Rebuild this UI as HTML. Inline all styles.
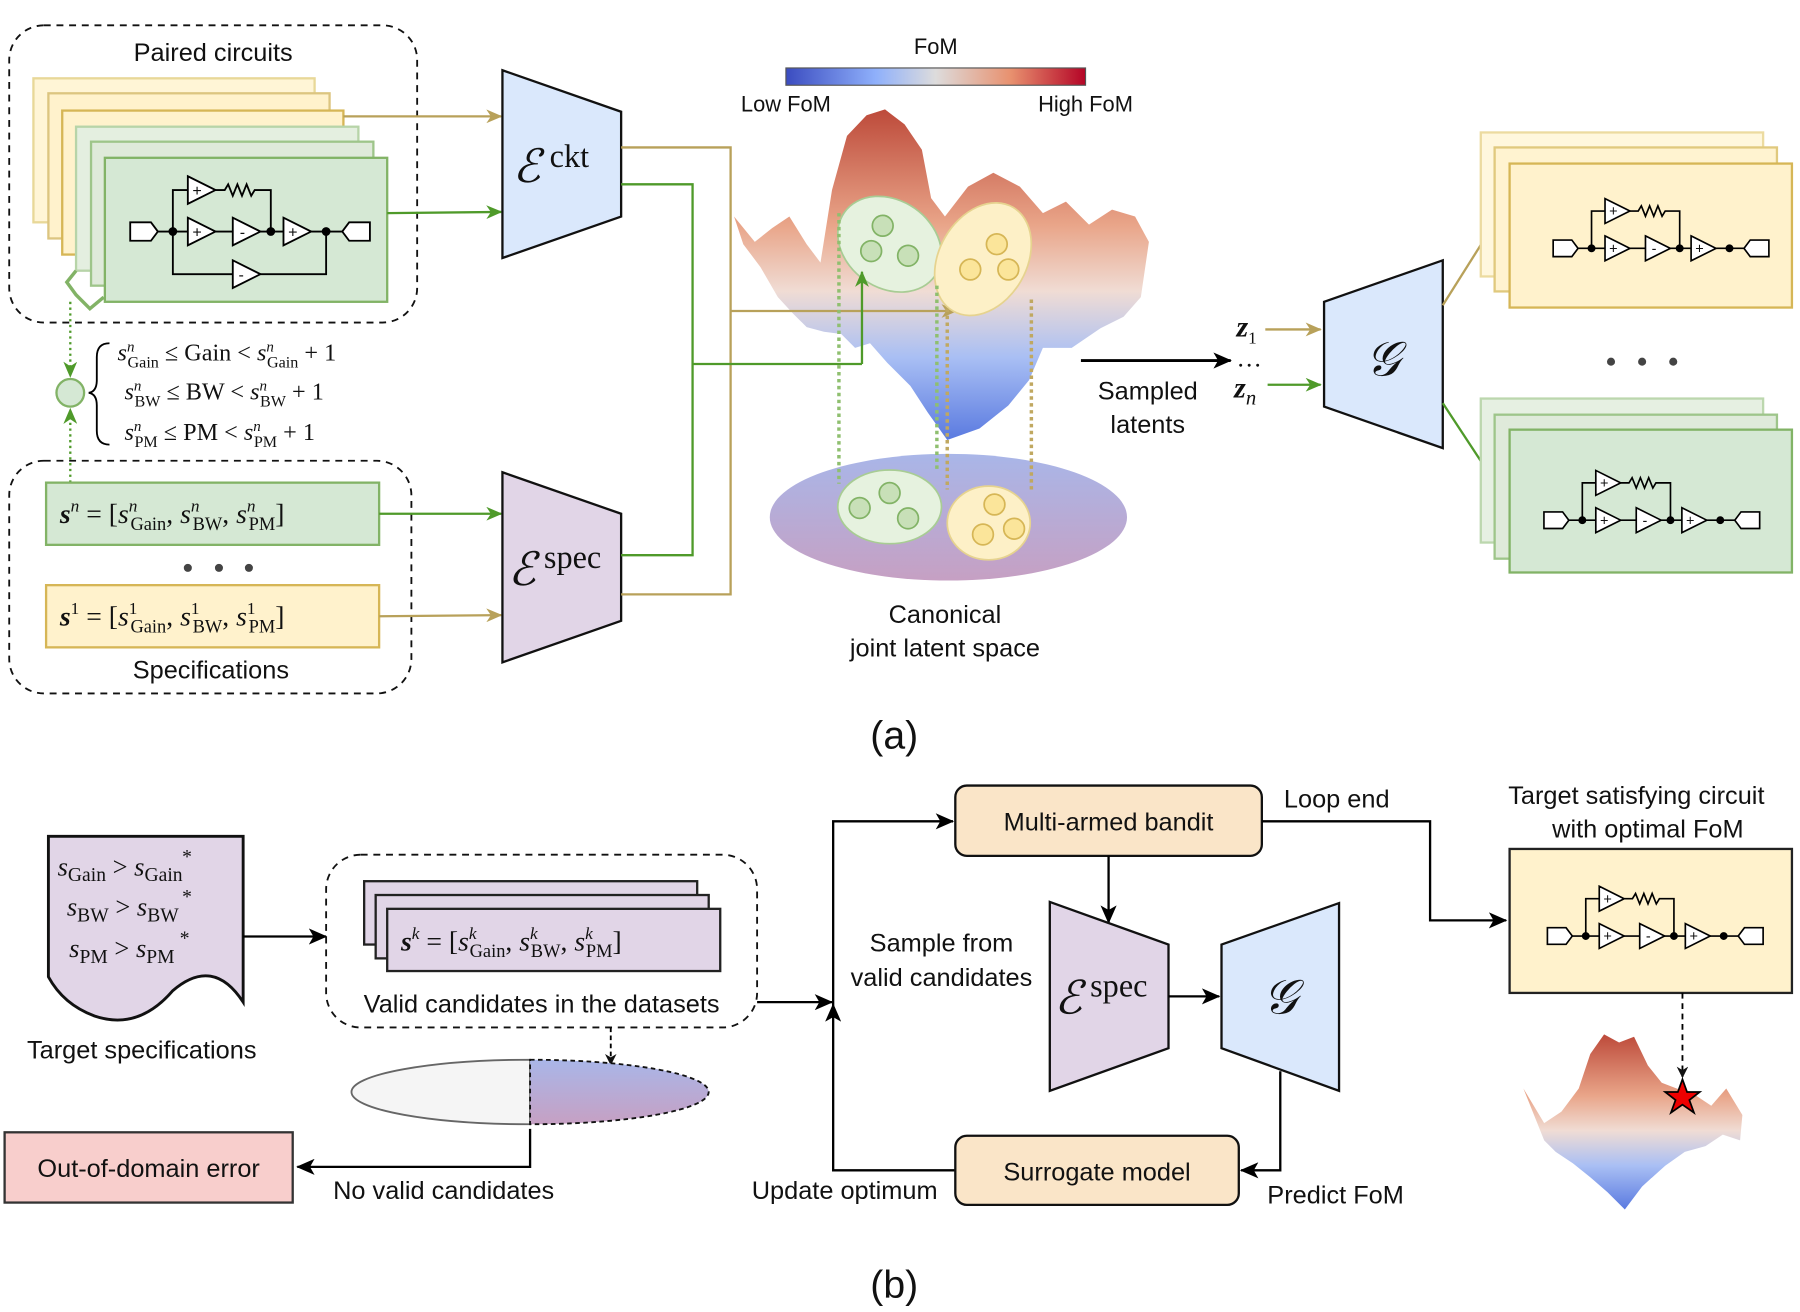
<!DOCTYPE html>
<html><head><meta charset="utf-8"><style>
html,body{margin:0;padding:0;background:#fff;}
svg{display:block;}
text{font-family:"Liberation Sans",sans-serif;fill:#111;}
text.m{font-family:"Liberation Serif",serif;}
</style></head><body>
<svg width="1800" height="1312" viewBox="0 0 1562 1139" preserveAspectRatio="none" xmlns="http://www.w3.org/2000/svg">
<defs>
<marker id="ak" markerWidth="10" markerHeight="10" refX="9" refY="5" orient="auto" markerUnits="userSpaceOnUse"><path d="M0,0 L10,5 L0,10 L3,5Z" fill="#111"/></marker>
<marker id="ag" markerWidth="14" markerHeight="12" refX="13" refY="6" orient="auto" markerUnits="userSpaceOnUse"><path d="M0,0 L14,6 L0,12 L4,6Z" fill="#4f9a2a"/></marker>
<marker id="ay" markerWidth="14" markerHeight="12" refX="13" refY="6" orient="auto" markerUnits="userSpaceOnUse"><path d="M0,0 L14,6 L0,12 L4,6Z" fill="#b8a15a"/></marker>
<marker id="ab" markerWidth="16" markerHeight="14" refX="15" refY="7" orient="auto" markerUnits="userSpaceOnUse"><path d="M0,0 L16,7 L0,14 L4,7Z" fill="#000"/></marker>
<linearGradient id="cb" x1="0" x2="1" y1="0" y2="0"><stop offset="0" stop-color="#3b4cc0"/><stop offset="0.3" stop-color="#8fb0fb"/><stop offset="0.5" stop-color="#dddcdc"/><stop offset="0.75" stop-color="#e8916f"/><stop offset="1" stop-color="#b40426"/></linearGradient>
<linearGradient id="sf" x1="0" x2="0" y1="0" y2="1"><stop offset="0" stop-color="#bd4a3a"/><stop offset="0.35" stop-color="#e9a589"/><stop offset="0.55" stop-color="#f0dcd4"/><stop offset="0.75" stop-color="#a9bff4"/><stop offset="1" stop-color="#5a7ae0"/></linearGradient>
<linearGradient id="lp" x1="0" x2="0" y1="0" y2="1"><stop offset="0" stop-color="#a9b6e8"/><stop offset="1" stop-color="#c6a0c3"/></linearGradient>
<g id="circ" stroke="#000" stroke-width="1.6" fill="none">
<path d="M46,64 H206 M59,64 V28 H72 M96,28 H104 l3,-5 l4,10 l4,-10 l4,10 l4,-10 l4,10 l3,-5 H144 V64"/>
<path d="M22,56 H40 L46,64 L40,72 H22Z M230,56 H212 L206,64 L212,72 H230Z" fill="#fff"/>
<path d="M72,16 L96,28 L72,40Z M72,52 L96,64 L72,76Z M111,52 L135,64 L111,76Z M155,52 L179,64 L155,76Z" fill="#fff"/>
<circle cx="59" cy="64" r="3" fill="#000"/><circle cx="144" cy="64" r="3" fill="#000"/><circle cx="192" cy="64" r="3" fill="#000"/>
<text x="76" y="33" font-size="14" stroke="none" fill="#000">+</text><text x="76" y="69" font-size="14" stroke="none" fill="#000">+</text><text x="117" y="69" font-size="14" stroke="none" fill="#000">-</text><text x="159" y="69" font-size="14" stroke="none" fill="#000">+</text>
</g>
</defs>

<!-- (a) paired circuits -->
<rect x="8" y="22" width="354" height="258" rx="30" fill="none" stroke="#111" stroke-width="1.6" stroke-dasharray="6,5"/>
<text x="185" y="53" font-size="22" text-anchor="middle">Paired circuits</text>
<g stroke-width="2">
<rect x="29" y="68" width="244" height="125" fill="#fff5d6" stroke="#e8d898"/>
<rect x="42" y="81" width="244" height="126" fill="#fff2cc" stroke="#dcc580"/>
<rect x="54" y="96" width="244" height="125" fill="#fff2cc" stroke="#d6b656"/>
<rect x="66" y="110" width="245" height="125" fill="#e4efe0" stroke="#b7d4a8"/>
<rect x="79" y="123" width="245" height="125" fill="#dfeada" stroke="#9ec58a"/>
<rect x="91" y="137" width="245" height="125" fill="#d5e8d4" stroke="#82b366"/>
</g>
<use href="#circ" x="91" y="137"/>
<g stroke="#000" stroke-width="1.6" fill="none"><path d="M150,201 V238 H202 M226,238 H283 V201"/><path d="M202,226 L226,238 L202,250Z" fill="#fff"/></g>
<text x="207" y="243" font-size="14">-</text>
<path d="M66,235 L58,245 L66,256 L78,268 L90,258" stroke="#82b366" stroke-width="3" fill="none"/>
<line x1="61" y1="262" x2="61" y2="327" stroke="#4f9a2a" stroke-width="2" stroke-dasharray="2,3" marker-end="url(#ag)"/>
<line x1="61" y1="419" x2="61" y2="355" stroke="#4f9a2a" stroke-width="2" stroke-dasharray="2,3" marker-end="url(#ag)"/>
<circle cx="61" cy="341" r="12" fill="#d5e8d4" stroke="#82b366" stroke-width="2"/>
<path d="M95,298 Q84,298 84,310 V330 Q84,340 77,341 Q84,342 84,352 V374 Q84,386 95,386" fill="none" stroke="#000" stroke-width="1.6"/>
<text x="102" y="313" class="m" font-size="21"><tspan font-style="italic">s</tspan><tspan font-size="13" dy="-8" font-style="italic">n</tspan><tspan font-size="14" dy="14" dx="-6">Gain</tspan><tspan dy="-6"> ≤  Gain  &lt; </tspan><tspan font-style="italic">s</tspan><tspan font-size="13" dy="-8" font-style="italic">n</tspan><tspan font-size="14" dy="14" dx="-6">Gain</tspan><tspan dy="-6"> + 1</tspan></text>
<text x="108" y="347" class="m" font-size="21"><tspan font-style="italic">s</tspan><tspan font-size="13" dy="-8" font-style="italic">n</tspan><tspan font-size="14" dy="14" dx="-6">BW</tspan><tspan dy="-6"> ≤   BW   &lt; </tspan><tspan font-style="italic">s</tspan><tspan font-size="13" dy="-8" font-style="italic">n</tspan><tspan font-size="14" dy="14" dx="-6">BW</tspan><tspan dy="-6"> + 1</tspan></text>
<text x="108" y="382" class="m" font-size="21"><tspan font-style="italic">s</tspan><tspan font-size="13" dy="-8" font-style="italic">n</tspan><tspan font-size="14" dy="14" dx="-6">PM</tspan><tspan dy="-6"> ≤   PM   &lt; </tspan><tspan font-style="italic">s</tspan><tspan font-size="13" dy="-8" font-style="italic">n</tspan><tspan font-size="14" dy="14" dx="-6">PM</tspan><tspan dy="-6"> + 1</tspan></text>

<!-- specifications -->
<rect x="8" y="400" width="349" height="202" rx="30" fill="none" stroke="#111" stroke-width="1.6" stroke-dasharray="6,5"/>
<rect x="40" y="419" width="289" height="54" fill="#d5e8d4" stroke="#82b366" stroke-width="2"/>
<rect x="40" y="508" width="289" height="54" fill="#fff2cc" stroke="#d6b656" stroke-width="2"/>
<text x="52" y="454" class="m" font-size="24"><tspan font-weight="bold" font-style="italic">s</tspan><tspan font-size="15" dy="-10" font-style="italic">n</tspan><tspan dy="10"> = [</tspan><tspan font-style="italic">s</tspan><tspan font-size="15" dy="-10" font-style="italic">n</tspan><tspan font-size="16" dy="16" dx="-6">Gain</tspan><tspan dy="-6">, </tspan><tspan font-style="italic">s</tspan><tspan font-size="15" dy="-10" font-style="italic">n</tspan><tspan font-size="16" dy="16" dx="-6">BW</tspan><tspan dy="-6">, </tspan><tspan font-style="italic">s</tspan><tspan font-size="15" dy="-10" font-style="italic">n</tspan><tspan font-size="16" dy="16" dx="-6">PM</tspan><tspan dy="-6">]</tspan></text>
<text x="52" y="543" class="m" font-size="24"><tspan font-weight="bold" font-style="italic">s</tspan><tspan font-size="15" dy="-10">1</tspan><tspan dy="10"> = [</tspan><tspan font-style="italic">s</tspan><tspan font-size="15" dy="-10">1</tspan><tspan font-size="16" dy="16" dx="-6">Gain</tspan><tspan dy="-6">, </tspan><tspan font-style="italic">s</tspan><tspan font-size="15" dy="-10">1</tspan><tspan font-size="16" dy="16" dx="-6">BW</tspan><tspan dy="-6">, </tspan><tspan font-style="italic">s</tspan><tspan font-size="15" dy="-10">1</tspan><tspan font-size="16" dy="16" dx="-6">PM</tspan><tspan dy="-6">]</tspan></text>
<circle cx="163" cy="493" r="3.5" fill="#444"/><circle cx="190" cy="493" r="3.5" fill="#444"/><circle cx="216" cy="493" r="3.5" fill="#444"/>
<text x="183" y="589" font-size="22" text-anchor="middle">Specifications</text>

<!-- arrows to encoders -->
<line x1="298" y1="101" x2="435" y2="101" stroke="#b8a15a" stroke-width="2" marker-end="url(#ay)"/>
<line x1="336" y1="185" x2="435" y2="184" stroke="#4f9a2a" stroke-width="2" marker-end="url(#ag)"/>
<line x1="329" y1="446" x2="435" y2="446" stroke="#4f9a2a" stroke-width="2" marker-end="url(#ag)"/>
<line x1="329" y1="535" x2="435" y2="534" stroke="#b8a15a" stroke-width="2" marker-end="url(#ay)"/>

<!-- encoders -->
<path d="M436,61 L539,97 L539,188 L436,224Z" fill="#dae8fc" stroke="#111" stroke-width="2"/>
<text x="445" y="158" class="m" font-size="40" font-style="italic">ℰ</text><text x="477" y="145" class="m" font-size="28">ckt</text>
<path d="M436,410 L539,446 L539,539 L436,575Z" fill="#e1d5e7" stroke="#111" stroke-width="2"/>
<text x="441" y="508" class="m" font-size="40" font-style="italic">ℰ</text><text x="472" y="493" class="m" font-size="28">spec</text>

<!-- connector lines -->
<path d="M539,128 H634 V516 H539" fill="none" stroke="#b8a15a" stroke-width="2"/>
<path d="M539,160 H601 V482 H539" fill="none" stroke="#4f9a2a" stroke-width="2"/>

<!-- colorbar -->
<rect x="682" y="59" width="260" height="15" fill="url(#cb)" stroke="#555" stroke-width="1"/>
<text x="812" y="47" font-size="19" text-anchor="middle">FoM</text>
<text x="682" y="97" font-size="19" text-anchor="middle">Low FoM</text>
<text x="942" y="97" font-size="19" text-anchor="middle">High FoM</text>

<!-- bottom latent -->
<ellipse cx="823" cy="449" rx="155" ry="55" fill="url(#lp)"/>
<!-- surface -->
<path d="M637,188 L655,210 L670,198 L685,188 L700,212 L712,228 L722,165 L735,118 L752,100 L768,95 L785,108 L800,130 L808,172 L820,188 L840,162 L862,150 L885,162 L905,185 L925,175 L945,195 L965,182 L985,188 L997,210 L990,258 L975,275 L955,285 L930,302 L905,302 L893,330 L875,352 L850,372 L822,382 L805,358 L790,335 L770,315 L755,298 L742,302 L730,290 L715,288 L700,284 L688,272 L675,258 L660,232 L645,212Z" fill="url(#sf)"/>
<line x1="634" y1="270" x2="830" y2="270" stroke="#b8a15a" stroke-width="2" marker-end="url(#ay)"/>
<ellipse cx="772" cy="212" rx="48" ry="38" transform="rotate(35 772 212)" fill="#e6f2df" stroke="#a8cc94" stroke-width="1.5"/>
<ellipse cx="853" cy="225" rx="38" ry="52" transform="rotate(30 853 225)" fill="#fdf0c7" stroke="#e6d38f" stroke-width="1.5"/>
<g fill="#c8e0b8" stroke="#82b366" stroke-width="1.5"><circle cx="766" cy="196" r="9"/><circle cx="756" cy="218" r="9"/><circle cx="788" cy="222" r="9"/></g>
<g fill="#fbe59a" stroke="#d6b656" stroke-width="1.5"><circle cx="865" cy="212" r="9"/><circle cx="842" cy="234" r="9"/><circle cx="875" cy="234" r="9"/></g>
<path d="M748,316 V236" stroke="#4f9a2a" stroke-width="2" marker-end="url(#ag)" fill="none"/>
<path d="M601,316 H748" stroke="#4f9a2a" stroke-width="2" fill="none"/>
<g stroke-width="3" stroke-dasharray="3,3" fill="none">
<line x1="728" y1="185" x2="728" y2="420" stroke="#8fbf6f"/>
<line x1="813" y1="248" x2="813" y2="410" stroke="#8fbf6f"/>
<line x1="822" y1="268" x2="822" y2="425" stroke="#c0a860"/>
<line x1="895" y1="260" x2="895" y2="428" stroke="#c0a860"/>
</g>
<ellipse cx="772" cy="440" rx="45" ry="32" fill="#e6f2df" stroke="#a8cc94" stroke-width="1.5"/>
<ellipse cx="858" cy="454" rx="36" ry="32" fill="#fdf0c7" stroke="#e6d38f" stroke-width="1.5"/>
<g fill="#c8e0b8" stroke="#82b366" stroke-width="1.5"><circle cx="772" cy="428" r="9"/><circle cx="746" cy="441" r="9"/><circle cx="788" cy="450" r="9"/></g>
<g fill="#fbe59a" stroke="#d6b656" stroke-width="1.5"><circle cx="863" cy="438" r="9"/><circle cx="853" cy="464" r="9"/><circle cx="880" cy="459" r="9"/></g>
<text x="820" y="541" font-size="22" text-anchor="middle">Canonical</text>
<text x="820" y="570" font-size="22" text-anchor="middle">joint latent space</text>

<!-- sampled latents -->
<line x1="938" y1="313" x2="1068" y2="313" stroke="#000" stroke-width="2.5" marker-end="url(#ab)"/>
<text x="996" y="347" font-size="22" text-anchor="middle">Sampled</text>
<text x="996" y="376" font-size="22" text-anchor="middle">latents</text>
<text x="1073" y="292" class="m" font-size="26" font-weight="bold" font-style="italic">z<tspan font-size="15" font-style="normal" font-weight="normal" dy="6">1</tspan></text>
<text x="1073" y="318" class="m" font-size="22">…</text>
<text x="1071" y="345" class="m" font-size="26" font-weight="bold" font-style="italic">z<tspan font-size="18" font-weight="normal" dy="6">n</tspan></text>
<line x1="1098" y1="286" x2="1146" y2="286" stroke="#b8a15a" stroke-width="2" marker-end="url(#ay)"/>
<line x1="1100" y1="334" x2="1146" y2="334" stroke="#4f9a2a" stroke-width="2" marker-end="url(#ag)"/>
<path d="M1149,262 L1252,226 L1252,389 L1149,353Z" fill="#dae8fc" stroke="#111" stroke-width="2"/>
<text x="1200" y="326" class="m" font-size="42" font-style="italic" text-anchor="middle">𝒢</text>
<line x1="1252" y1="265" x2="1298" y2="192" stroke="#b8a15a" stroke-width="2" marker-end="url(#ay)"/>
<line x1="1252" y1="350" x2="1298" y2="420" stroke="#4f9a2a" stroke-width="2" marker-end="url(#ag)"/>

<!-- right cards -->
<g stroke-width="2">
<rect x="1285" y="115" width="245" height="125" fill="#fff7dd" stroke="#ecdba0"/>
<rect x="1297" y="128" width="245" height="125" fill="#fff3d0" stroke="#e0c97e"/>
<rect x="1310" y="142" width="245" height="125" fill="#fff2cc" stroke="#d6b656"/>
<rect x="1285" y="346" width="245" height="125" fill="#e6f0e2" stroke="#bcd7ae"/>
<rect x="1297" y="360" width="245" height="125" fill="#dfeada" stroke="#9ec58a"/>
<rect x="1310" y="373" width="245" height="124" fill="#d5e8d4" stroke="#82b366"/>
</g>
<use href="#circ" transform="translate(1328,158) scale(0.9)"/>
<use href="#circ" transform="translate(1320,394) scale(0.9)"/>
<circle cx="1398" cy="314" r="3.5" fill="#444"/><circle cx="1425" cy="314" r="3.5" fill="#444"/><circle cx="1452" cy="314" r="3.5" fill="#444"/>

<text x="776" y="650" font-size="34" text-anchor="middle">(a)</text>

<!-- (b) -->
<path d="M42,726 H211 V870 Q185,830 150,860 Q120,895 82,882 Q55,872 42,848Z" fill="#e1d5e7" stroke="#111" stroke-width="2.5"/>
<text x="50" y="760" class="m" font-size="23"><tspan font-style="italic">s</tspan><tspan font-size="17" dy="5">Gain</tspan><tspan dy="-5"> &gt; </tspan><tspan font-style="italic">s</tspan><tspan font-size="17" dy="5">Gain</tspan></text>
<text x="58" y="795" class="m" font-size="23"><tspan font-style="italic">s</tspan><tspan font-size="17" dy="5">BW</tspan><tspan dy="-5"> &gt; </tspan><tspan font-style="italic">s</tspan><tspan font-size="17" dy="5">BW</tspan></text>
<text x="60" y="831" class="m" font-size="23"><tspan font-style="italic">s</tspan><tspan font-size="17" dy="5">PM</tspan><tspan dy="-5"> &gt; </tspan><tspan font-style="italic">s</tspan><tspan font-size="17" dy="5">PM</tspan></text>
<text x="158" y="749" class="m" font-size="17">*</text><text x="158" y="784" class="m" font-size="17">*</text><text x="156" y="820" class="m" font-size="17">*</text>
<text x="123" y="919" font-size="22" text-anchor="middle">Target specifications</text>
<line x1="211" y1="813" x2="283" y2="813" stroke="#000" stroke-width="2" marker-end="url(#ab)"/>

<rect x="283" y="742" width="374" height="150" rx="30" fill="none" stroke="#111" stroke-width="1.6" stroke-dasharray="6,5"/>
<rect x="316" y="765" width="289" height="55" fill="#e1d5e7" stroke="#222" stroke-width="2"/>
<rect x="326" y="777" width="289" height="55" fill="#e1d5e7" stroke="#222" stroke-width="2"/>
<rect x="336" y="789" width="289" height="54" fill="#e1d5e7" stroke="#222" stroke-width="2"/>
<text x="348" y="825" class="m" font-size="24"><tspan font-weight="bold" font-style="italic">s</tspan><tspan font-size="15" dy="-10" font-style="italic">k</tspan><tspan dy="10"> = [</tspan><tspan font-style="italic">s</tspan><tspan font-size="15" dy="-10" font-style="italic">k</tspan><tspan font-size="16" dy="16" dx="-6">Gain</tspan><tspan dy="-6">, </tspan><tspan font-style="italic">s</tspan><tspan font-size="15" dy="-10" font-style="italic">k</tspan><tspan font-size="16" dy="16" dx="-6">BW</tspan><tspan dy="-6">, </tspan><tspan font-style="italic">s</tspan><tspan font-size="15" dy="-10" font-style="italic">k</tspan><tspan font-size="16" dy="16" dx="-6">PM</tspan><tspan dy="-6">]</tspan></text>
<text x="470" y="879" font-size="22" text-anchor="middle">Valid candidates in the datasets</text>
<line x1="530" y1="892" x2="530" y2="924" stroke="#000" stroke-width="1.6" stroke-dasharray="4,3" marker-end="url(#ak)"/>
<path d="M460,920 A155,28 0 0,0 460,976Z" fill="#f5f5f5" stroke="#666" stroke-width="1.6"/>
<path d="M460,920 A155,28 0 0,1 460,976Z" fill="url(#lp)" stroke="#111" stroke-width="1.6" stroke-dasharray="4,3"/>
<path d="M460,980 V1013 H258" fill="none" stroke="#000" stroke-width="2" marker-end="url(#ab)"/>
<rect x="4" y="983" width="250" height="61" fill="#f8cecc" stroke="#333" stroke-width="2"/>
<text x="129" y="1022" font-size="22" text-anchor="middle">Out-of-domain error</text>
<text x="385" y="1041" font-size="22" text-anchor="middle">No valid candidates</text>
<line x1="657" y1="870" x2="722" y2="870" stroke="#000" stroke-width="2" marker-end="url(#ab)"/>
<path d="M829,1016 H723 V872" fill="none" stroke="#000" stroke-width="2" marker-end="url(#ab)"/>
<path d="M723,872 V713 H827" fill="none" stroke="#000" stroke-width="2" marker-end="url(#ab)"/>
<rect x="829" y="682" width="266" height="61" rx="10" fill="#fae5c8" stroke="#111" stroke-width="2"/>
<text x="962" y="721" font-size="22" text-anchor="middle">Multi-armed bandit</text>
<text x="1160" y="701" font-size="22" text-anchor="middle">Loop end</text>
<path d="M1095,713 H1241 V799 H1307" fill="none" stroke="#000" stroke-width="2" marker-end="url(#ab)"/>
<line x1="962" y1="743" x2="962" y2="801" stroke="#000" stroke-width="2" marker-end="url(#ab)"/>
<path d="M911,783 L1014,820 L1014,910 L911,947Z" fill="#e1d5e7" stroke="#111" stroke-width="2"/>
<text x="915" y="880" class="m" font-size="40" font-style="italic">ℰ</text><text x="946" y="865" class="m" font-size="28">spec</text>
<line x1="1014" y1="865" x2="1058" y2="865" stroke="#000" stroke-width="2" marker-end="url(#ab)"/>
<path d="M1060,820 L1162,784 L1162,947 L1060,910Z" fill="#dae8fc" stroke="#111" stroke-width="2"/>
<text x="1111" y="880" class="m" font-size="42" font-style="italic" text-anchor="middle">𝒢</text>
<path d="M1111,930 V1016 H1077" fill="none" stroke="#000" stroke-width="2" marker-end="url(#ab)"/>
<rect x="829" y="986" width="246" height="60" rx="10" fill="#fae5c8" stroke="#111" stroke-width="2"/>
<text x="952" y="1025" font-size="22" text-anchor="middle">Surrogate model</text>
<text x="817" y="826" font-size="22" text-anchor="middle">Sample from</text>
<text x="817" y="856" font-size="22" text-anchor="middle">valid candidates</text>
<text x="733" y="1041" font-size="22" text-anchor="middle">Update optimum</text>
<text x="1159" y="1045" font-size="22" text-anchor="middle">Predict FoM</text>
<text x="1420" y="698" font-size="22" text-anchor="middle">Target satisfying circuit</text>
<text x="1430" y="727" font-size="22" text-anchor="middle">with optimal FoM</text>
<rect x="1310" y="737" width="245" height="125" fill="#fff2cc" stroke="#222" stroke-width="2"/>
<use href="#circ" transform="translate(1323,755) scale(0.9)"/>
<path d="M1322,945 L1340,975 L1355,965 L1370,945 L1380,915 L1392,898 L1405,905 L1418,900 L1430,925 L1442,940 L1455,945 L1470,950 L1485,960 L1498,945 L1512,968 L1510,990 L1495,985 L1480,995 L1462,1000 L1445,1012 L1425,1030 L1410,1050 L1395,1035 L1380,1022 L1365,1010 L1350,1000 L1340,990Z" fill="url(#sf)"/>
<line x1="1460" y1="862" x2="1460" y2="935" stroke="#000" stroke-width="1.6" stroke-dasharray="5,4" marker-end="url(#ak)"/>
<path d="M1460,937 L1464,948 L1475,948 L1466,955 L1470,966 L1460,959 L1450,966 L1454,955 L1445,948 L1456,948Z" fill="#e00" stroke="#000" stroke-width="1.5"/>

<text x="776" y="1127" font-size="34" text-anchor="middle">(b)</text>
</svg>
</body></html>
